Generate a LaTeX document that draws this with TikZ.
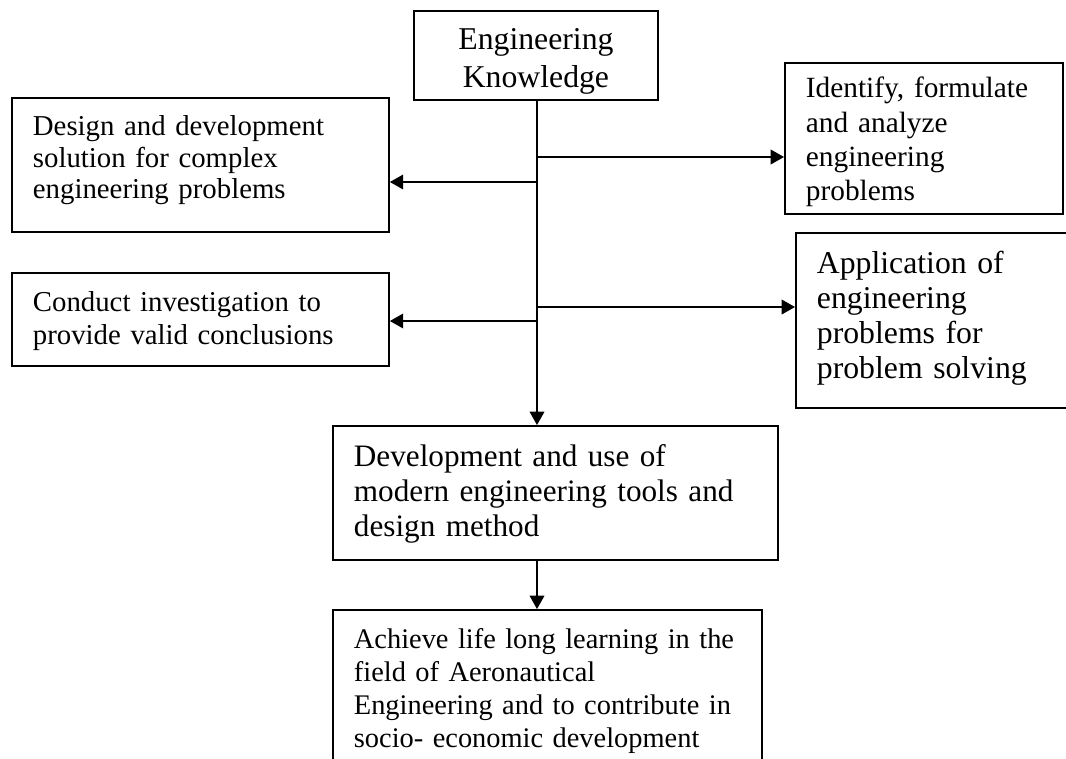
\documentclass[tikz,border=0pt]{standalone}
\usepackage{fontspec}
\setmainfont{Liberation Serif}
\usetikzlibrary{arrows.meta}

\begin{document}
\begin{tikzpicture}[
    x=0.75pt, y=-0.75pt,
    box/.style={draw, line width=1.4pt, anchor=north west, inner ysep=0pt, inner xsep=15.75pt, align=left},
    arr/.style={line width=1.1pt, -{Triangle[length=10pt, width=11pt]}},
    ]
    \clip (0,0) rectangle (1066,758);

    \node[box, align=center, inner xsep=0pt, text width=183pt, text height=29.25pt, text depth=37.5pt,
          font=\fontsize{23.8}{28.5}\selectfont] (ek) at (413,10)
        {Engineering\\Knowledge};
    \node[box, text width=251.25pt, text height=28.3pt, text depth=72.2pt,
          font=\fontsize{21.6}{23.6}\selectfont] (design) at (11,97)
        {Design and development\\solution for complex\\engineering problems};
    \node[box, text width=251.25pt, text height=29pt, text depth=40.7pt,
          font=\fontsize{21.6}{24.3}\selectfont] (conduct) at (11,272)
        {Conduct investigation to\\provide valid conclusions};
    \node[box, text width=177pt, text height=26.25pt, text depth=87pt,
          font=\fontsize{22}{25.7}\selectfont] (ident) at (784,62)
        {Identify, formulate\\and analyze\\engineering\\problems};
    \node[box, text width=173.25pt, text height=30.5pt, text depth=100.7pt,
          font=\fontsize{23.8}{26.25}\selectfont] (appl) at (795,232)
        {Application of\\engineering\\problems for\\problem solving};
    \node[box, text width=302.25pt, text height=30.75pt, text depth=69.75pt,
          font=\fontsize{23.4}{26.25}\selectfont] (dev) at (332,425)
        {Development and use of\\modern engineering tools and\\design method};
    \node[box, text width=290.25pt, text height=29.25pt, text depth=106.5pt,
          font=\fontsize{21.3}{24.75}\selectfont] (ach) at (332,609)
        {Achieve life long learning in the\\field of Aeronautical\\Engineering and to contribute in\\socio- economic development};

    \coordinate (k0) at (537,99);
    \coordinate (k1) at (537,157);
    \coordinate (k2) at (537,182);
    \coordinate (k3) at (537,307);
    \coordinate (k4) at (537,321);

    \draw[arr] (k0) -- (k0 |- dev.north);
    \draw[arr] (k1) -- (k1 -| ident.west);
    \draw[arr] (k2) -- (k2 -| design.east);
    \draw[arr] (k3) -- (k3 -| appl.west);
    \draw[arr] (k4) -- (k4 -| conduct.east);
    \draw[arr] (dev.south -| k0) -- (ach.north -| k0);
\end{tikzpicture}
\end{document}
